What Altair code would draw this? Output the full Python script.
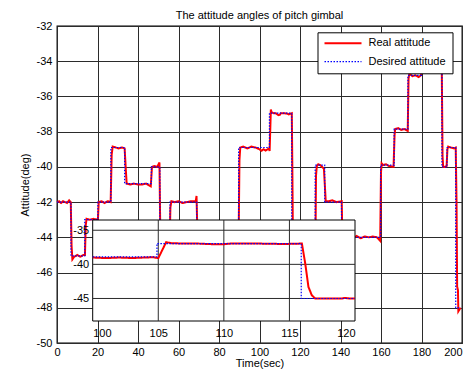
import altair as alt
import pandas as pd

# ---------------- data ----------------
real_time = [0, 1, 2, 3, 4, 5, 6, 6.8,
             7.2, 7.6, 8.5, 10, 11.5, 13, 13.8,
             14.2, 14.6, 16, 18, 20.2,
             20.6, 22, 23.5, 25, 26.5,
             27.0, 27.5, 29, 30.5, 32, 33.4,
             34.0, 34.4, 36, 38, 40, 42, 44, 46.3,
             46.9, 48, 49.5, 50.6,
             51.1, 51.5, 53, 55.5,
             56.0, 56.5, 58, 60, 62, 64, 66, 68.5, 68.9,
             69.3, 69.7, 75, 80, 85, 89.7,
             90.1, 90.5, 92, 94, 96, 98, 100, 101, 102, 103, 104, 104.6, 105.0,
             105.6, 106.0, 107, 108, 109.3, 110, 110.5, 112, 113.5, 114.5, 115.95,
             116.2, 116.45, 116.7, 116.96, 118, 119, 119.25, 119.6, 120, 122, 124, 127.6,
             127.9, 128.3, 129, 130, 131.8, 132.3, 132.7, 134, 136, 138, 140.6,
             140.9, 141.3, 144, 147, 148, 150, 152, 154, 156, 158, 159.6,
             160.0, 160.3, 161, 162.5, 164, 166.2,
             166.7, 167, 168.5, 170, 171.5, 173.2,
             173.6, 174, 175.5, 177, 178.5, 179.8,
             180.2, 181, 185, 189.9,
             190.4, 190.7, 191.5, 192.4,
             192.8, 193.2, 194.5, 196, 196.9,
             197.3, 197.6, 198.0, 198.2, 199.3]
real_angle = [-42.0, -41.95, -42.05, -41.95, -42.0, -42.05, -41.9, -42.0,
              -44.5, -45.25, -45.1, -45.0, -45.1, -45.0, -45.0,
              -43.3, -42.95, -43.0, -42.95, -43.0,
              -42.0, -41.95, -42.05, -41.95, -42.0,
              -39.3, -38.85, -38.9, -38.95, -38.9, -38.95,
              -40.2, -40.95, -41.0, -40.95, -41.0, -41.0, -40.95, -41.1,
              -40.0, -39.95, -40.0, -39.75,
              -44.6, -45.0, -45.05, -45.0,
              -42.3, -41.95, -42.0, -41.95, -42.05, -42.0, -41.95, -41.95, -41.65,
              -43.6, -44.0, -44.0, -44.05, -43.95, -44.0,
              -39.6, -38.9, -38.85, -38.95, -38.85, -38.9, -39.0, -39.08, -39.0, -39.07, -39.0, -38.95, -39.1,
              -36.75, -36.9, -36.95, -36.95, -37.06, -37.05, -36.95, -36.95, -36.97, -37.02, -36.95,
              -39.8, -43.3, -44.5, -45.0, -45.0, -45.0, -44.92, -45.0, -45.0, -45.0, -45.05, -45.0,
              -40.5, -39.95, -39.85, -39.9, -40.1, -41.1, -41.95, -41.95, -41.9, -42.0, -41.95,
              -43.8, -44.0, -44.0, -44.0, -43.92, -44.05, -43.95, -44.0, -43.95, -44.0, -44.2,
              -40.3, -39.8, -39.9, -39.85, -39.95, -40.0,
              -38.2, -37.85, -37.8, -37.9, -37.85, -37.95,
              -35.0, -34.7, -34.85, -34.8, -34.9, -34.8,
              -33.3, -33.0, -33.0, -33.0,
              -39.4, -40.0, -40.0, -39.95,
              -39.0, -38.85, -38.9, -38.95, -38.9,
              -42.0, -46.8, -47.0, -48.2, -48.0]

desired_time = [0, 6.9, 13.7, 20.2, 26.6, 33.4, 46.6, 50.8, 55.8, 69.0, 89.7, 100,
                104.9, 115.9, 120, 127.5, 132.2, 140.5, 159.8, 166.5, 173.3, 180.0,
                190.1, 192.6, 196.9, 199.3]
desired_angle = [-42, -45.05, -43, -42, -38.9, -40.95, -40, -45, -42, -44, -38.9, -38.9,
                 -36.95, -45, -45, -39.9, -42, -44, -39.9, -37.85, -34.8, -33.0,
                 -40, -38.9, -48, -48]

series_names = ["Real attitude", "Desired attitude"]
series_colors = ["#ff0000", "#0000ff"]

x_ticks = [0, 20, 40, 60, 80, 100, 120, 140, 160, 180, 200]
y_ticks = [-50, -48, -46, -44, -42, -40, -38, -36, -34, -32]
x_domain = [0, 200]
y_domain = [-50, -32]

inset_x_ticks = [100, 105, 110, 115, 120]
inset_y_ticks = [-45, -40, -35]
inset_x_grid = [105, 110, 115]
inset_y_grid = [-45, -40, -35]
inset_x_domain = [100, 120]
inset_y_domain = [-48.3, -33.5]

# ---------------- tables ----------------
df = pd.concat([
    pd.DataFrame({"t": real_time, "v": real_angle, "series": series_names[0]}),
    pd.DataFrame({"t": desired_time, "v": desired_angle, "series": series_names[1]}),
], ignore_index=True)

FONT = "Liberation Sans"
GRID = "#2b2b2b"
HYPHEN_LABEL = "'' + datum.value"

legend = alt.Legend(
    orient="none", legendX=260.5, legendY=6.3, title=None,
    strokeColor="black", fillColor="white", padding=6,
    labelFont=FONT, labelFontSize=11, labelColor="black", labelOffset=6,
    symbolSize=1369, symbolType="stroke", clipHeight=10, rowPadding=7.4, cornerRadius=0,
)

color = alt.Color("series:N", scale=alt.Scale(domain=series_names, range=series_colors), legend=legend)
dash = alt.StrokeDash("series:N", scale=alt.Scale(domain=series_names, range=[[1, 0], [1.5, 1.5]]), legend=legend)
width = alt.StrokeWidth("series:N", scale=alt.Scale(domain=series_names, range=[2, 1.2]), legend=legend)

last_x = x_domain[1]
main_x = alt.X("t:Q", scale=alt.Scale(domain=x_domain, nice=False, zero=False),
               axis=alt.Axis(values=x_ticks, title="Time(sec)", labelPadding=3, titlePadding=0,
                             grid=True, gridColor=GRID, labelExpr=HYPHEN_LABEL,
                             labelAlign={"condition": {"test": f"datum.value >= {last_x}", "value": "right"},
                                         "value": "center"}))
main_y = alt.Y("v:Q", scale=alt.Scale(domain=y_domain, nice=False, zero=False),
               axis=alt.Axis(values=y_ticks, title="Attitude(deg)", labelPadding=5, titlePadding=6,
                             grid=True, gridColor=GRID, labelExpr=HYPHEN_LABEL))

base = alt.Chart(df)
real_main = base.transform_filter(alt.datum.series == series_names[0]).mark_line().encode(
    x=main_x, y=main_y, color=color, strokeDash=dash, strokeWidth=width)
des_main = base.transform_filter(alt.datum.series == series_names[1]).mark_line(
    interpolate="step-after").encode(x=main_x, y=main_y, color=color, strokeDash=dash, strokeWidth=width)
main = alt.layer(real_main, des_main)

# ---------------- inset ----------------
ix_scale = alt.Scale(domain=inset_x_domain, range=[35.7, 298], nice=False, zero=False)
iy_scale = alt.Scale(domain=inset_y_domain, range=[295, 194], nice=False, zero=False)
ix_axis = alt.Axis(values=inset_x_ticks, orient="bottom", offset=-22, grid=False, domain=False,
                   ticks=False, tickSize=0, labelPadding=6, title=None, zindex=1, labelExpr=HYPHEN_LABEL)
iy_axis = alt.Axis(values=inset_y_ticks, orient="left", offset=-35.7, grid=False, domain=False,
                   ticks=False, tickSize=0, labelPadding=4, title=None, zindex=1, labelExpr=HYPHEN_LABEL)

box_df = pd.DataFrame({"x": [inset_x_domain[0]], "x2": [inset_x_domain[1]],
                       "y": [inset_y_domain[0]], "y2": [inset_y_domain[1]]})
inset_box = alt.Chart(box_df).mark_rect(fill="white", stroke="black", strokeWidth=1).encode(
    x=alt.X("x:Q", scale=ix_scale, axis=ix_axis), x2="x2:Q",
    y=alt.Y("y:Q", scale=iy_scale, axis=iy_axis), y2="y2:Q")

vgrid = alt.Chart(pd.DataFrame({"gx": inset_x_grid})).mark_rule(color=GRID, strokeWidth=1).encode(
    x=alt.X("gx:Q", scale=ix_scale, axis=ix_axis),
    y=alt.Y(datum=inset_y_domain[0], scale=iy_scale, axis=iy_axis),
    y2=alt.Y2(datum=inset_y_domain[1]))
hgrid = alt.Chart(pd.DataFrame({"gy": inset_y_grid})).mark_rule(color=GRID, strokeWidth=1).encode(
    y=alt.Y("gy:Q", scale=iy_scale, axis=iy_axis),
    x=alt.X(datum=inset_x_domain[0], scale=ix_scale, axis=ix_axis),
    x2=alt.X2(datum=inset_x_domain[1]))

in_x = alt.X("t:Q", scale=ix_scale, axis=ix_axis)
in_y = alt.Y("v:Q", scale=iy_scale, axis=iy_axis)
inset_filter = (alt.datum.t >= inset_x_domain[0]) & (alt.datum.t <= inset_x_domain[1])
real_in = base.transform_filter(alt.datum.series == series_names[0]).transform_filter(inset_filter).mark_line().encode(
    x=in_x, y=in_y, color=color, strokeDash=dash, strokeWidth=width)
des_in = base.transform_filter(alt.datum.series == series_names[1]).transform_filter(inset_filter).mark_line(
    interpolate="step-after").encode(x=in_x, y=in_y, color=color, strokeDash=dash, strokeWidth=width)

inset = alt.layer(inset_box, vgrid, hgrid, real_in, des_in)

chart = alt.layer(main, inset).resolve_scale(x="independent", y="independent").properties(
    width=405, height=317,
    title=alt.TitleParams("The attitude angles of pitch gimbal", font=FONT, fontSize=11,
                          fontWeight="normal", color="black", anchor="middle", frame="group",
                          offset=-1),
    autosize=alt.AutoSizeParams(type="none"),
    padding={"left": 49, "top": 18, "right": 1, "bottom": 28},
).configure_axis(
    labelFont=FONT, labelFontSize=11, labelColor="black",
    titleFont=FONT, titleFontSize=11, titleFontWeight="normal", titleColor="black",
    domain=False, ticks=False, tickSize=0, gridOpacity=1, gridWidth=1,
).configure_view(stroke="black", strokeWidth=1.3)

chart.save("out.html", embed_options={"renderer": "svg", "actions": False})
